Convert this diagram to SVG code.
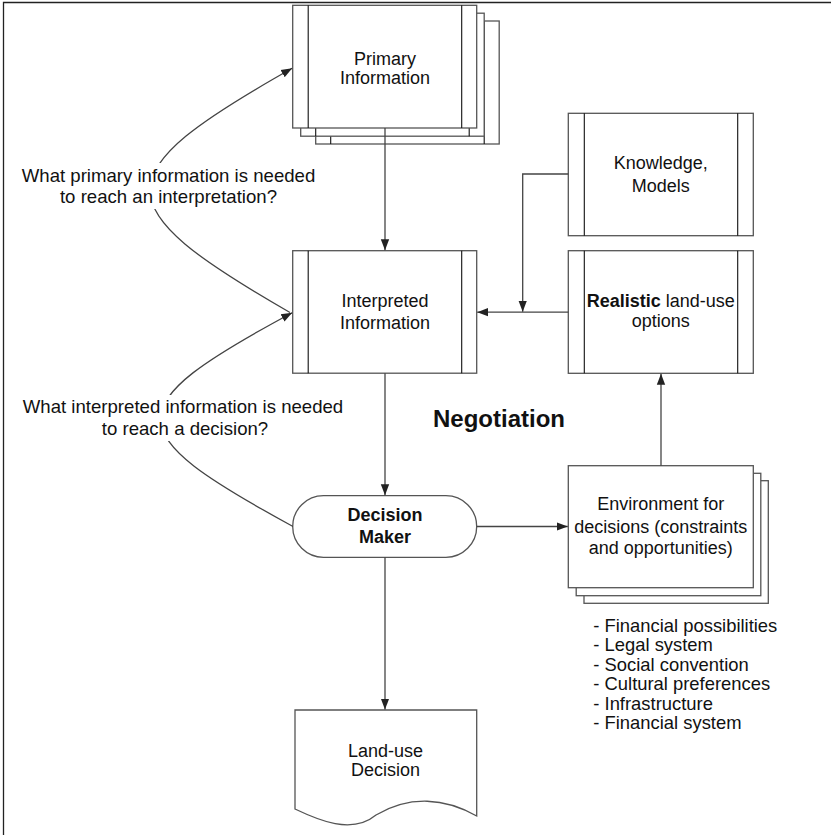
<svg xmlns="http://www.w3.org/2000/svg" width="831" height="835" viewBox="0 0 831 835">
<style>
  .box{fill:#fff;stroke:#555;stroke-width:1.3}
  .in{stroke:#111;stroke-width:1.1;fill:none}
  .con{fill:none;stroke:#444;stroke-width:1.3}
  .t{font-family:"Liberation Sans",Arial,sans-serif;font-size:18px;fill:#111;text-anchor:middle}
  .b{font-weight:bold}
  .l{font-family:"Liberation Sans",Arial,sans-serif;font-size:18.4px;fill:#111}
</style>
<defs>
  <marker id="ah" markerWidth="12" markerHeight="10" refX="11" refY="5" orient="auto" markerUnits="userSpaceOnUse">
    <path d="M0,0.8 L11,5 L0,9.2 Z" fill="#222"/>
  </marker>
</defs>
<rect width="831" height="835" fill="#fff"/>
<path d="M3.5,835 V2.5 H831" fill="none" stroke="#222" stroke-width="1.3"/>

<g id="primary-information">
  <rect class="box" x="315.7" y="21" width="183.5" height="123"/>
  <path class="in" d="M330.7,21 V144 M484.2,21 V144"/>
  <rect class="box" x="300.7" y="13.2" width="183.5" height="123"/>
  <path class="in" d="M315.7,13.2 V136.2 M469.2,13.2 V136.2"/>
  <rect class="box" x="292.7" y="5.3" width="184" height="122.7"/>
  <path class="in" d="M308.2,5.3 V128 M461.7,5.3 V128"/>
  <text class="t" x="385" y="64.5">Primary</text>
  <text class="t" x="385" y="84.3">Information</text>
</g>

<g id="interpreted-information">
  <rect class="box" x="292.7" y="250.7" width="184" height="122.5"/>
  <path class="in" d="M308.2,250.7 V373.2 M461.7,250.7 V373.2"/>
  <text class="t" x="385" y="306.7">Interpreted</text>
  <text class="t" x="385" y="329">Information</text>
</g>

<g id="knowledge-models">
  <rect class="box" x="568.3" y="113.3" width="185" height="122.4"/>
  <path class="in" d="M584.3,113.3 V235.7 M737.7,113.3 V235.7"/>
  <text class="t" x="660.8" y="169">Knowledge,</text>
  <text class="t" x="660.8" y="191.7">Models</text>
</g>

<g id="realistic-options">
  <rect class="box" x="568.3" y="250.7" width="185" height="122.6"/>
  <path class="in" d="M584.3,250.7 V373.3 M737.7,250.7 V373.3"/>
  <text class="t" x="660.8" y="306.7"><tspan class="b">Realistic</tspan> land-use</text>
  <text class="t" x="660.8" y="327.2">options</text>
</g>

<g id="decision-maker">
  <rect class="box" x="292.7" y="495.7" width="184" height="61.6" rx="30.8" ry="30.8"/>
  <text class="t b" x="385" y="520.7">Decision</text>
  <text class="t b" x="385" y="543.3">Maker</text>
</g>

<g id="environment">
  <rect class="box" x="584" y="480.7" width="184.3" height="122.6"/>
  <rect class="box" x="576.2" y="473.3" width="184.6" height="122.4"/>
  <rect class="box" x="568.3" y="465.7" width="185" height="122"/>
  <text class="t" x="660.8" y="510">Environment for</text>
  <text class="t" x="660.8" y="532.7">decisions (constraints</text>
  <text class="t" x="660.8" y="554.3">and opportunities)</text>
</g>

<g id="factors">
  <text class="l" x="593.3" y="631.5">- Financial possibilities</text>
  <text class="l" x="593.3" y="651">- Legal system</text>
  <text class="l" x="593.3" y="670.5">- Social convention</text>
  <text class="l" x="593.3" y="690">- Cultural preferences</text>
  <text class="l" x="593.3" y="709.5">- Infrastructure</text>
  <text class="l" x="593.3" y="729">- Financial system</text>
</g>

<g id="land-use-decision">
  <path class="box" d="M295,710 H476.7 V816 C445,798 410,795 376,815 C352,835 318,820 295,809 Z"/>
  <text class="t" x="385.5" y="756.7">Land-use</text>
  <text class="t" x="385.5" y="775.7">Decision</text>
</g>

<g id="negotiation">
  <text class="t b" x="499" y="426.7" style="font-size:24px">Negotiation</text>
</g>

<g id="connectors">
  <path class="con" d="M385,128 V250.2" marker-end="url(#ah)"/>
  <path class="con" d="M385,373.2 V495.2" marker-end="url(#ah)"/>
  <path class="con" d="M385,557.3 V709.5" marker-end="url(#ah)"/>
  <path class="con" d="M476.7,526.5 H567.8" marker-end="url(#ah)"/>
  <path class="con" d="M661,465.7 V373.8" marker-end="url(#ah)"/>
  <path class="con" d="M568.3,312.2 H477.2" marker-end="url(#ah)"/>
  <path class="con" d="M568.3,174 H522.7 V311.7" marker-end="url(#ah)"/>
  <path class="con" d="M290,312.5 C103,205 103,175 292.2,68.3" marker-end="url(#ah)"/>
  <path class="con" d="M293,526.5 C118,431 115,408 292.2,312.7" marker-end="url(#ah)"/>
</g>

<g id="question-labels">
  <rect x="15" y="163" width="305" height="46" fill="#fff"/>
  <text class="t" x="168.5" y="181.7" style="font-size:18.6px">What primary information is needed</text>
  <text class="t" x="168.5" y="203" style="font-size:18.6px">to reach an interpretation?</text>
  <rect x="15" y="395" width="335" height="46" fill="#fff"/>
  <text class="t" x="183" y="413.4" style="font-size:18.6px">What interpreted information is needed</text>
  <text class="t" x="185" y="435" style="font-size:18.6px">to reach a decision?</text>
</g>
</svg>
